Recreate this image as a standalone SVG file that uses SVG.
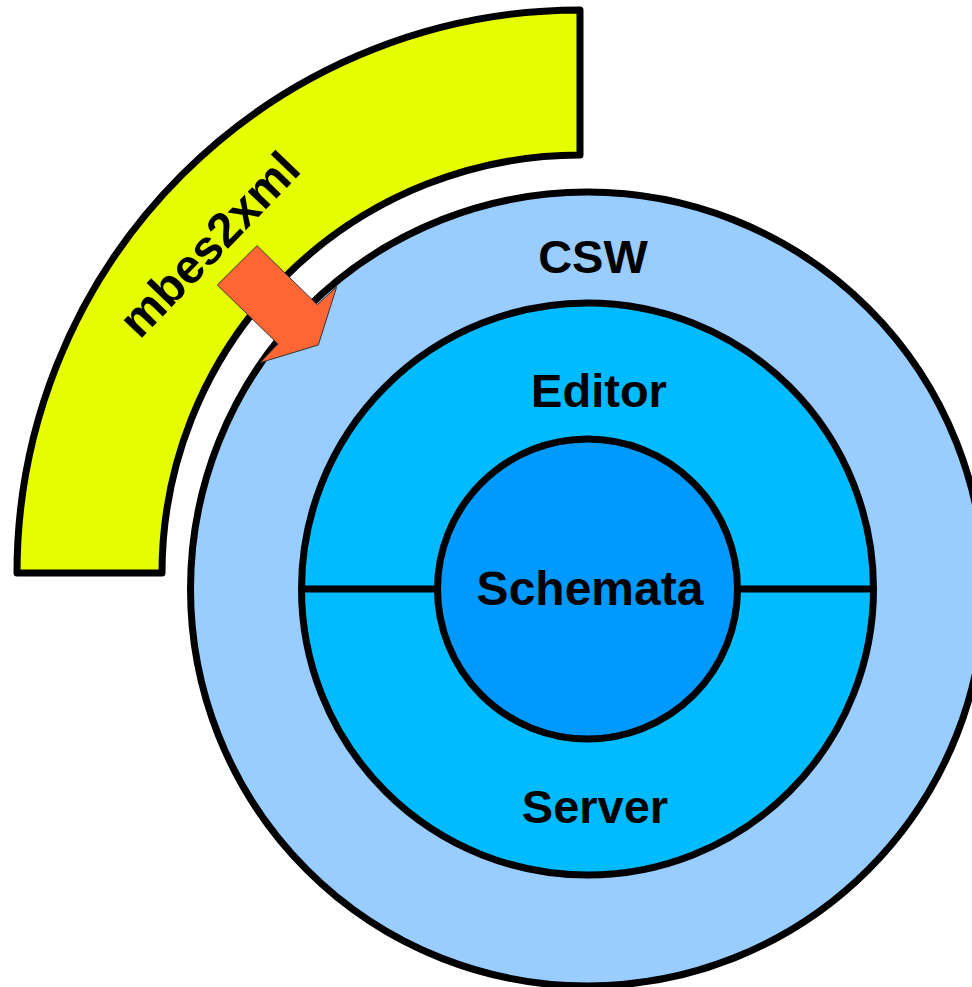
<svg xmlns="http://www.w3.org/2000/svg" width="972" height="987" viewBox="0 0 972 987">
  <style>
    .ring { stroke: #000; stroke-width: 7; }
    .label { font-family: "Liberation Sans", Arial, sans-serif; font-weight: bold; font-size: 47px; fill: #000; text-anchor: middle; }
    .arrow { fill: #ff6633; stroke: #333; stroke-width: 1; stroke-linejoin: miter; }
  </style>
  <rect width="972" height="987" fill="#ffffff"/>

  <!-- converter band: quarter annulus around the service circle -->
  <g id="mbes2xml">
    <path class="ring" fill="#e5ff00" stroke-linejoin="round"
          d="M 17 573 A 563 563 0 0 1 580 10 L 580 155 A 418 418 0 0 0 162 573 Z"/>
    <text class="label" transform="translate(209,244) rotate(-46)" y="17" style="font-size:48px">mbes2xml</text>
  </g>

  <!-- outer service ring -->
  <g id="csw">
    <circle class="ring" cx="587.5" cy="589" r="397" fill="#99ccff"/>
    <text class="label" x="593" y="273">CSW</text>
  </g>

  <!-- middle ring split into editor (top) and server (bottom) -->
  <g id="editor-server">
    <circle class="ring" cx="587.5" cy="589" r="286" fill="#00bbff"/>
    <line class="ring" x1="301" y1="589" x2="874" y2="589"/>
  </g>
  <g id="editor">
    <text class="label" x="599" y="407">Editor</text>
  </g>
  <g id="server">
    <text class="label" x="595" y="823">Server</text>
  </g>

  <!-- core -->
  <g id="schemata">
    <circle class="ring" cx="587.5" cy="589" r="150" fill="#0099ff"/>
    <text class="label" x="590" y="605" style="font-size:48px">Schemata</text>
  </g>

  <!-- flow from the converter into the service -->
  <g id="connectors">
    <polygon class="arrow" points="257,245.7 217.3,285 278,344 260,362.7 318.3,345 336.7,286.7 317.3,304.7"/>
  </g>
</svg>
